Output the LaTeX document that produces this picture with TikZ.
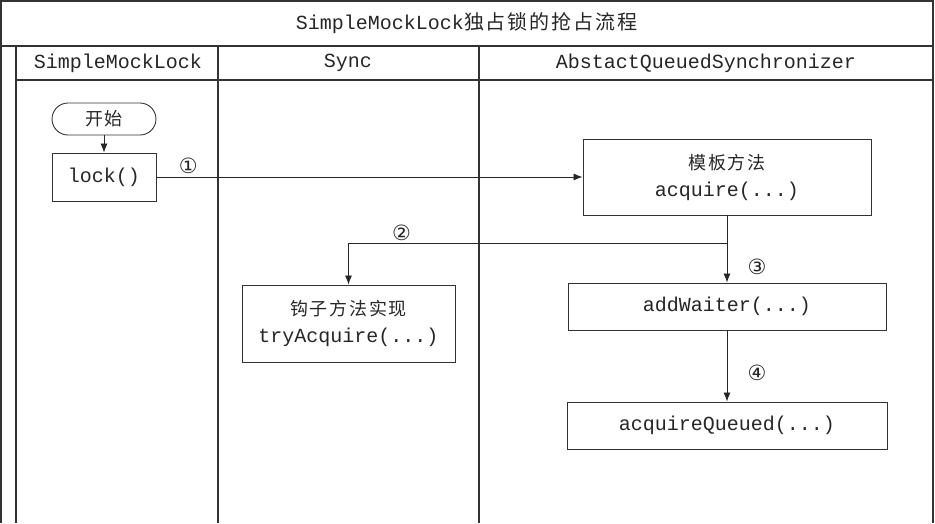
\documentclass[tikz,border=0pt]{standalone}
\usepackage{fontspec}
\setmonofont{Liberation Mono}
\newfontfamily\cjk[LetterSpace=10]{Noto Sans CJK SC}
\newfontfamily\circfont{DejaVu Sans}
\usetikzlibrary{arrows.meta,positioning}
\tikzset{
  frame/.style={draw=black!80,line width=1.3pt},
  box/.style={draw=black!80,line width=0.9pt,align=center,text=black!85,
    font=\ttfamily\fontsize{20}{27}\selectfont,inner sep=0pt},
  lane/.style={text=black!85,font=\ttfamily\fontsize{20}{22}\selectfont},
  num/.style={text=black!85,font=\circfont\fontsize{21}{21}\selectfont,inner sep=1pt},
  flow/.style={draw=black!85,line width=0.8pt,-{Latex[length=9pt,width=7pt]}}
}
\begin{document}
\begin{tikzpicture}[x=1pt,y=-1pt]
\useasboundingbox (0,0) rectangle (935,523);
% swimlane frame
\draw[frame] (1,523) -- (1,1) -- (933,1) -- (933,523);
\draw[frame] (1,46) -- (933,46);
\draw[frame] (16,46) -- (16,523);
\draw[frame] (16,80) -- (933,80);
\draw[frame] (218,46) -- (218,523);
\draw[frame] (479,46) -- (479,523);
\node[lane] (title) at (467,23) {SimpleMockLock{\cjk\fontsize{20}{22}\selectfont 独占锁的抢占流程}};
\node[lane] (laneLock) at (118,63) {SimpleMockLock};
\node[lane] (laneSync) at (348,63) {Sync};
\node[lane] (laneAqs) at (706,63) {AbstactQueuedSynchronizer};
% steps
\node[box,rounded corners=16pt,minimum width=104pt,minimum height=32pt] (start) at (104,119) {\cjk\fontsize{18}{20}\selectfont 开始};
\node[box,minimum width=104pt,minimum height=48pt] (lock) at (104,177) {lock()};
\node[box,minimum width=288pt,minimum height=76pt] (acq) at (727,177) {{\cjk\fontsize{18}{20}\selectfont 模板方法}\\acquire(...)};
\node[box,minimum width=213pt,minimum height=77pt] (try) at (348.5,323.5) {{\cjk\fontsize{18}{20}\selectfont 钩子方法实现}\\tryAcquire(...)};
\node[box,minimum width=318pt,minimum height=47pt] (add) at (727,306.5) {addWaiter(...)};
\node[box,minimum width=320pt,minimum height=47pt] (queued) at (727,425.5) {acquireQueued(...)};
\coordinate (fork) at ([yshift=-28pt]acq.south);
% connectors
\draw[flow] (start) -- (lock);
\draw[flow] (lock) -- node[num,pos=0.075,above=2pt] {①} (acq);
\draw[flow] (fork) -| node[num,pos=0.43,above=1pt] {②} (try);
\draw[flow] (acq) -- node[num,pos=0.76,xshift=30pt] {③} (add);
\draw[flow] (add) -- node[num,pos=0.6,xshift=30pt] {④} (queued);
\end{tikzpicture}
\end{document}
